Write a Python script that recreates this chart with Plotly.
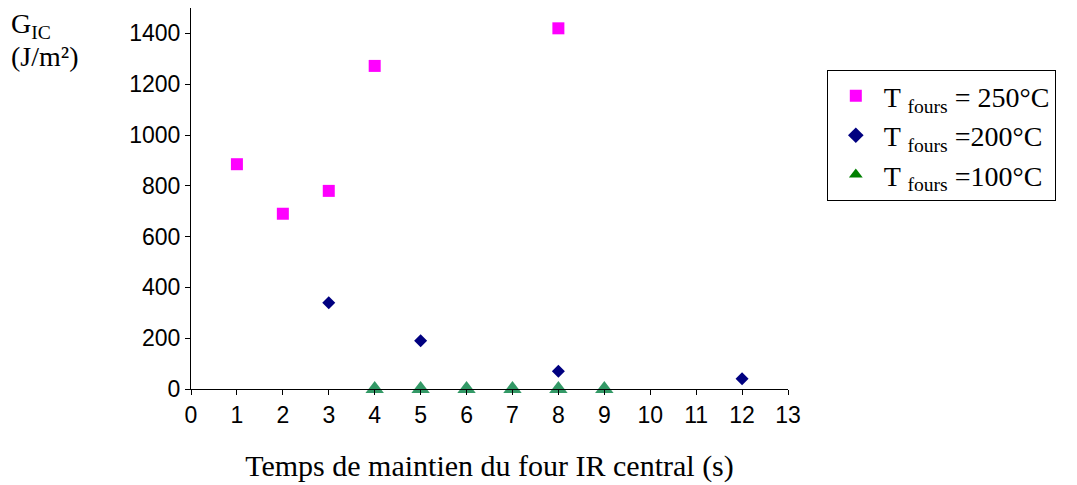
import plotly.graph_objects as go

x250 = [1, 2, 3, 4, 8]
y250 = [885, 690, 780, 1272, 1420]
x200 = [3, 5, 8, 12]
y200 = [340, 190, 70, 40]
x100 = [4, 5, 6, 7, 8, 9]
y100 = [0, 0, 0, 0, 0, 0]
names = ["T <sub>fours</sub> = 250°C", "T <sub>fours</sub> =200°C", "T <sub>fours</sub> =100°C"]
xticks = list(range(0, 14))
yticks = list(range(0, 1401, 200))

fig = go.Figure()
fig.add_trace(go.Scatter(x=x250, y=y250, mode="markers", name=names[0],
                         marker=dict(symbol="square", size=12, color="#FF00FF"), cliponaxis=False))
fig.add_trace(go.Scatter(x=x200, y=y200, mode="markers", name=names[1],
                         marker=dict(symbol="diamond", size=10, color="#000080"), cliponaxis=False))
fig.add_trace(go.Scatter(x=x100, y=y100, mode="markers", name=names[2], showlegend=False,
                         marker=dict(symbol="triangle-up", size=16, color="#339966"), cliponaxis=False))
fig.add_trace(go.Scatter(x=[None], y=[None], mode="markers", name=names[2],
                         marker=dict(symbol="triangle-up", size=16, color="#008000")))

fig.update_layout(
    width=1077, height=485,
    margin=dict(l=183, r=297, t=0, b=104),
    paper_bgcolor="white", plot_bgcolor="white",
    showlegend=True,
    legend=dict(x=1.065, y=0.837, xanchor="left", yanchor="top",
                bordercolor="black", borderwidth=1, itemwidth=46,
                font=dict(family="Liberation Serif", size=28, color="black"),
                itemsizing="constant", tracegroupgap=0),
    xaxis=dict(range=[0, 13], tickvals=xticks, showgrid=False, zeroline=False,
               showline=True, linecolor="black", linewidth=1,
               ticks="outside", ticklen=5, tickcolor="black",
               tickfont=dict(family="Liberation Sans", size=23, color="black"),
               title=dict(text="Temps de maintien du four IR central (s)",
                          font=dict(family="Liberation Serif", size=30, color="black"),
                          standoff=28)),
    yaxis=dict(range=[0, 1500], tickvals=yticks, showgrid=False, zeroline=False,
               showline=True, linecolor="black", linewidth=1,
               ticks="outside", ticklen=5, tickcolor="black",
               tickfont=dict(family="Liberation Sans", size=23, color="black")),
    annotations=[
        dict(text="G<sub>IC</sub>", xref="paper", yref="paper",
             x=-0.305, y=0.955, xanchor="left", yanchor="middle", showarrow=False, align="left",
             font=dict(family="Liberation Serif", size=28, color="black")),
        dict(text="(J/m²)", xref="paper", yref="paper",
             x=-0.305, y=0.872, xanchor="left", yanchor="middle", showarrow=False, align="left",
             font=dict(family="Liberation Serif", size=28, color="black")),
    ],
)
fig.write_html("out.html")
